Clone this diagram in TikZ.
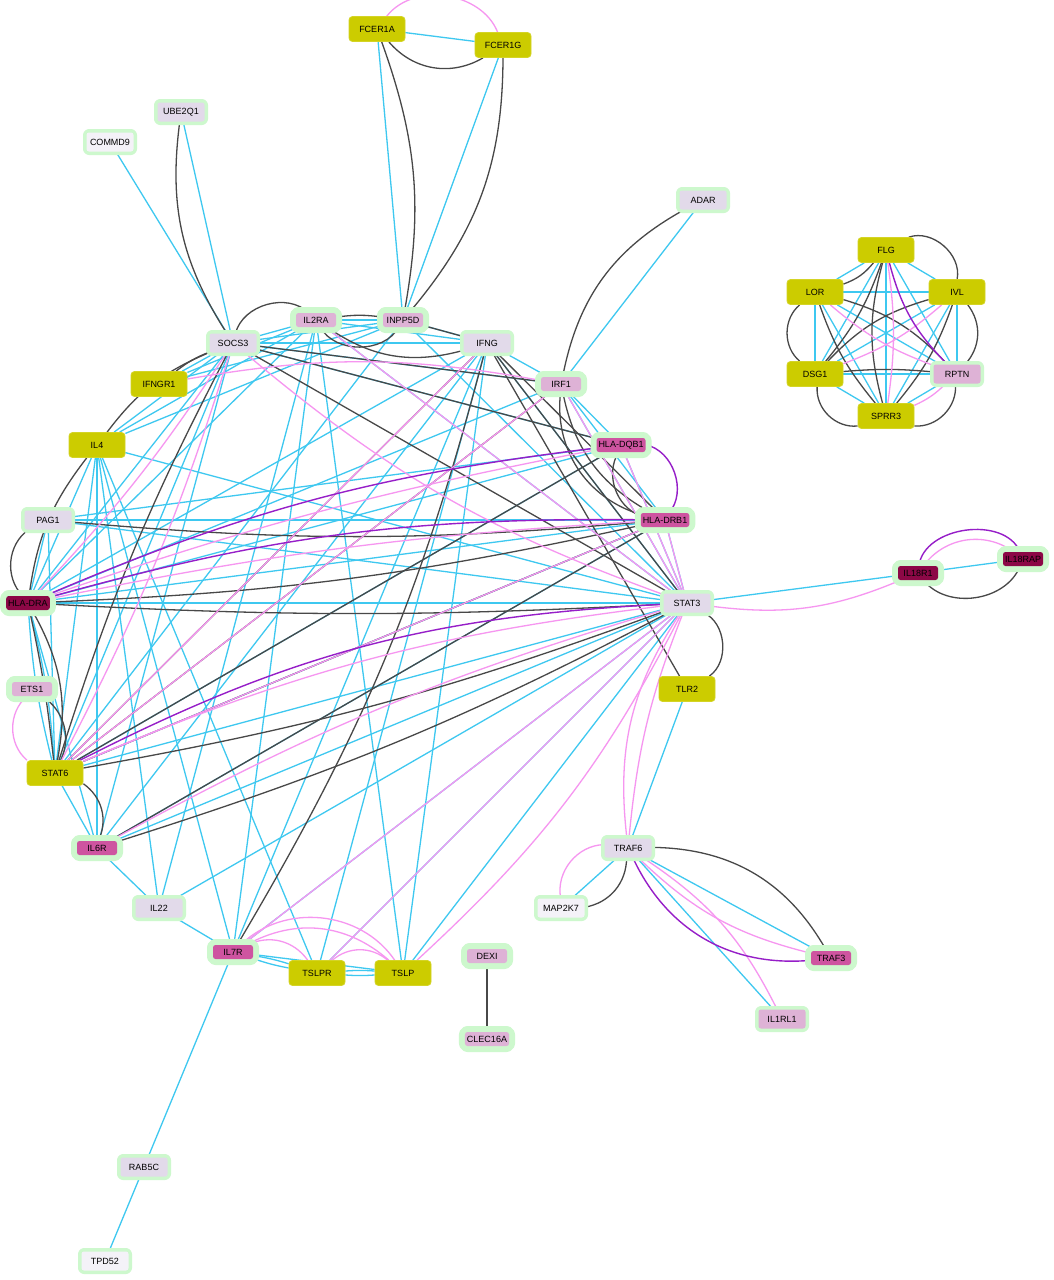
\documentclass[tikz,border=0pt]{standalone}
\usepackage{fontspec}
\setmainfont{Liberation Sans}
\pgfdeclarelayer{bg}
\pgfdeclarelayer{bgw}
\pgfsetlayers{bgw,bg,main}
\definecolor{ycol}{RGB}{204,204,0}
\definecolor{gcol}{RGB}{205,248,205}
\definecolor{lav}{RGB}{226,218,234}
\definecolor{wht}{RGB}{244,242,248}
\definecolor{pnk}{RGB}{222,178,214}
\definecolor{mag}{RGB}{206,84,160}
\definecolor{drk}{RGB}{140,8,70}
\definecolor{cyanE}{RGB}{62,200,240}
\definecolor{blackE}{RGB}{72,72,72}
\definecolor{pinkE}{RGB}{246,150,240}
\definecolor{purpE}{RGB}{150,30,200}
\tikzset{
  base/.style={font=\fontsize{9}{10}\selectfont, text=black, inner xsep=2pt, inner ysep=0pt, rounded corners=2.5pt},
  ynode/.style={base, fill=ycol, draw=ycol!85!white, line width=0.8pt, minimum width=56pt, minimum height=25pt, rounded corners=3.5pt},
  gbig/.style={base, fill=#1, minimum width=47pt, minimum height=19pt,
     preaction={draw=gcol, fill=gcol, line width=7pt, line join=round}},
  gsmall/.style={base, fill=#1, minimum width=40pt, minimum height=14pt,
     preaction={draw=gcol, fill=gcol, line width=12pt, line join=round}},
  ce/.style={draw=cyanE, line width=1.3pt},
  ke/.style={draw=blackE, line width=1.3pt},
  pe/.style={draw=pinkE, line width=1.3pt},
  ue/.style={draw=purpE, line width=1.4pt},
}
\begin{document}
\begin{tikzpicture}[x=1pt,y=1pt]
\begin{pgfonlayer}{bgw}
\fill[white] (0,0) rectangle (1054,-1280);
\end{pgfonlayer}
\useasboundingbox (0,0) rectangle (1054,-1280);
% yellow nodes
\node[ynode] (FCER1A) at (377,-29) {FCER1A};
\node[ynode] (FCER1G) at (503,-45) {FCER1G};
\node[ynode] (IFNGR1) at (159,-384) {IFNGR1};
\node[ynode] (IL4) at (97,-445) {IL4};
\node[ynode] (STAT6) at (55,-773) {STAT6};
\node[ynode] (TLR2) at (687,-689) {TLR2};
\node[ynode] (TSLPR) at (317,-973) {TSLPR};
\node[ynode] (TSLP) at (403,-973) {TSLP};
\node[ynode] (FLG) at (886,-250) {FLG};
\node[ynode] (LOR) at (815,-292) {LOR};
\node[ynode] (IVL) at (957,-292) {IVL};
\node[ynode] (DSG1) at (815,-374) {DSG1};
\node[ynode] (SPRR3) at (886,-416) {SPRR3};
% green-bordered nodes
\node[gbig=lav] (UBE2Q1) at (181,-112) {UBE2Q1};
\node[gbig=wht] (COMMD9) at (110,-142) {COMMD9};
\node[gbig=lav] (ADAR) at (703,-200) {ADAR};
\node[gbig=lav] (SOCS3) at (233,-343) {SOCS3};
\node[gsmall=pnk] (IL2RA) at (316,-320) {IL2RA};
\node[gsmall=pnk] (INPP5D) at (403,-320) {INPP5D};
\node[gbig=lav] (IFNG) at (487,-343) {IFNG};
\node[gsmall=pnk] (IRF1) at (561,-384) {IRF1};
\node[gsmall=mag] (HLADQB1) at (621,-445) {HLA-DQB1};
\node[gsmall=mag] (HLADRB1) at (665,-520) {HLA-DRB1};
\node[gbig=lav] (PAG1) at (48,-520) {PAG1};
\node[gsmall=drk] (HLADRA) at (28,-603) {HLA-DRA};
\node[gbig=lav] (STAT3) at (687,-603) {STAT3};
\node[gsmall=pnk] (ETS1) at (32,-689) {ETS1};
\node[gsmall=mag] (IL6R) at (97,-848) {IL6R};
\node[gbig=lav] (IL22) at (159,-908) {IL22};
\node[gsmall=mag] (IL7R) at (233,-952) {IL7R};
\node[gsmall=drk] (IL18R1) at (918,-573) {IL18R1};
\node[gsmall=drk] (IL18RAP) at (1023,-559) {IL18RAP};
\node[gbig=lav] (TRAF6) at (628,-848) {TRAF6};
\node[gbig=wht] (MAP2K7) at (561,-908) {MAP2K7};
\node[gsmall=mag] (TRAF3) at (831,-958) {TRAF3};
\node[gbig=pnk] (IL1RL1) at (782,-1019) {IL1RL1};
\node[gsmall=pnk] (DEXI) at (487,-956) {DEXI};
\node[gsmall=pnk] (CLEC16A) at (487,-1039) {CLEC16A};
\node[gbig=lav] (RAB5C) at (144,-1167) {RAB5C};
\node[gbig=wht] (TPD52) at (105,-1261) {TPD52};
\node[gbig=pnk] (RPTN) at (957,-374) {RPTN};
\begin{pgfonlayer}{bg}
% cyan edges
\foreach \a/\b/\c in {FCER1A/FCER1G/0, FCER1A/INPP5D/0, FCER1G/INPP5D/0, UBE2Q1/SOCS3/0, COMMD9/SOCS3/0, ADAR/IRF1/0,
 SOCS3/IL2RA/0, SOCS3/INPP5D/0, SOCS3/IFNG/0, SOCS3/IRF1/0, SOCS3/IFNGR1/0, SOCS3/IL4/0, SOCS3/HLADRA/0, SOCS3/STAT6/0, SOCS3/IL6R/0, SOCS3/HLADQB1/0,
 IL2RA/INPP5D/0, IL2RA/IFNG/0, IL2RA/IL4/0, IL2RA/IFNGR1/0, IL2RA/HLADRA/0, IL2RA/IL22/0, IL2RA/TSLP/0, IL2RA/STAT3/0, IL2RA/IL7R/0,
 INPP5D/IFNG/0, INPP5D/IL4/0, INPP5D/IFNGR1/0, INPP5D/STAT3/0, INPP5D/STAT6/0,
 IFNG/IRF1/0, IFNG/HLADRA/0, IFNG/IL6R/0, IFNG/TSLPR/0, IFNG/STAT3/0, IFNG/IL7R/0, IFNG/TSLP/0,
 IRF1/HLADQB1/0, IRF1/HLADRB1/0, IRF1/STAT3/0, IRF1/HLADRA/0,
 IL4/HLADRA/0, IL4/STAT6/0, IL4/IL6R/0, IL4/IL7R/0, IL4/STAT3/0, IL4/TSLPR/0, IL4/IL22/0,
 PAG1/HLADQB1/0, PAG1/HLADRB1/0, PAG1/STAT3/0, PAG1/HLADRA/0, PAG1/STAT6/0,
 HLADRA/HLADQB1/0, HLADRA/HLADRB1/0, HLADRA/STAT3/0, HLADRA/STAT6/5, HLADRA/STAT6/-5, HLADRA/IL6R/0,
 HLADQB1/STAT3/0, HLADRB1/STAT3/0, HLADQB1/STAT6/0,
 STAT6/STAT3/0, STAT6/HLADRB1/0, STAT6/IL6R/0,
 IL6R/STAT3/0, IL6R/IL22/0, IL6R/HLADRB1/0,
 IL22/IL7R/0, IL22/STAT3/0,
 IL7R/TSLPR/4, IL7R/TSLPR/-4, IL7R/TSLP/0, IL7R/STAT3/0, IL7R/RAB5C/0,
 TSLPR/TSLP/4, TSLPR/TSLP/-4, TSLPR/STAT3/0, TSLP/STAT3/0,
 STAT3/IL18R1/0, TLR2/TRAF6/0, TRAF6/MAP2K7/0, TRAF6/TRAF3/0, TRAF6/IL1RL1/0, IL18R1/IL18RAP/0, RAB5C/TPD52/0,
 FLG/LOR/0, FLG/IVL/0, FLG/DSG1/0, FLG/RPTN/0, FLG/SPRR3/0, LOR/IVL/0, LOR/DSG1/0, LOR/RPTN/0, LOR/SPRR3/0,
 IVL/DSG1/0, IVL/RPTN/0, IVL/SPRR3/0, DSG1/RPTN/0, DSG1/SPRR3/0, RPTN/SPRR3/0}
 {\draw[ce] (\a) to[bend left=\c] (\b);}
% black edges
\foreach \a/\b/\c in {FCER1A/FCER1G/-40, FCER1A/INPP5D/15, FCER1G/INPP5D/20, UBE2Q1/SOCS3/-20, ADAR/IRF1/-25,
 SOCS3/IL2RA/60, IL2RA/INPP5D/8, IL2RA/INPP5D/-60, IL2RA/IFNG/-25, INPP5D/IFNG/0,
 SOCS3/IFNGR1/-8, SOCS3/IL4/-15, IL4/HLADRA/-15, PAG1/HLADRA/-50,
 SOCS3/STAT6/-5, SOCS3/STAT3/0, SOCS3/IRF1/0, SOCS3/HLADQB1/0,
 IFNG/STAT6/0, IFNG/IL7R/8, IFNG/TLR2/0, IFNG/STAT3/0, IFNG/HLADRB1/0,
 IRF1/HLADRB1/-25, IRF1/HLADRB1/-40, IRF1/STAT6/0,
 HLADQB1/HLADRB1/-50, HLADQB1/STAT6/0, HLADRB1/HLADRA/5, PAG1/HLADRB1/-5,
 HLADRB1/STAT6/0, HLADRB1/IL6R/0, HLADRA/STAT3/-3, HLADRA/STAT6/20, HLADRA/STAT6/3,
 ETS1/STAT6/40, STAT6/IL6R/40, STAT6/STAT3/-5, IL6R/STAT3/-5, STAT3/TLR2/60,
 TRAF6/MAP2K7/40, TRAF6/TRAF3/30, DEXI/CLEC16A/0, IL18R1/IL18RAP/-60,
 FLG/IVL/60, LOR/DSG1/-50, DSG1/SPRR3/-50, SPRR3/RPTN/-50, FLG/LOR/15, FLG/DSG1/10, FLG/SPRR3/-15,
 LOR/RPTN/15, LOR/SPRR3/-10, IVL/DSG1/-15, IVL/SPRR3/10, IVL/RPTN/40, DSG1/RPTN/5}
 {\draw[ke] (\a) to[bend left=\c] (\b);}
% pink edges
\foreach \a/\b/\c in {FCER1A/FCER1G/60, SOCS3/STAT3/-10, SOCS3/HLADRA/5, SOCS3/STAT6/5, IFNGR1/IRF1/10,
 IFNG/STAT6/0, IL2RA/STAT3/0, IRF1/STAT6/0, HLADQB1/HLADRA/-4, HLADRB1/HLADRA/-4, HLADRB1/STAT6/0,
 STAT3/STAT6/-8, STAT3/IL6R/-6, STAT3/IL7R/0, STAT3/TSLPR/0, STAT3/TSLP/10,
 IRF1/STAT3/0, HLADQB1/STAT3/0, HLADRB1/STAT3/0, STAT3/IL18R1/-15,
 STAT3/TRAF6/-20, STAT3/TRAF6/-8, ETS1/STAT6/-50,
 IL7R/TSLP/35, IL7R/TSLP/50, IL7R/TSLPR/40, TSLPR/TSLP/40,
 TRAF6/MAP2K7/-50, TRAF6/TRAF3/-15, TRAF6/IL1RL1/15, IL18R1/IL18RAP/45,
 FLG/SPRR3/8, LOR/RPTN/-10, IVL/DSG1/10, RPTN/SPRR3/10}
 {\draw[pe] (\a) to[bend left=\c] (\b);}
% purple edges
\foreach \a/\b/\c in {HLADQB1/HLADRB1/60, HLADQB1/HLADRA/-8, HLADRB1/HLADRA/-8, STAT3/STAT6/-12,
 TRAF6/TRAF3/-35, IL18R1/IL18RAP/75, FLG/RPTN/-15}
 {\draw[ue] (\a) to[bend left=\c] (\b);}
\end{pgfonlayer}
\end{tikzpicture}
\end{document}
